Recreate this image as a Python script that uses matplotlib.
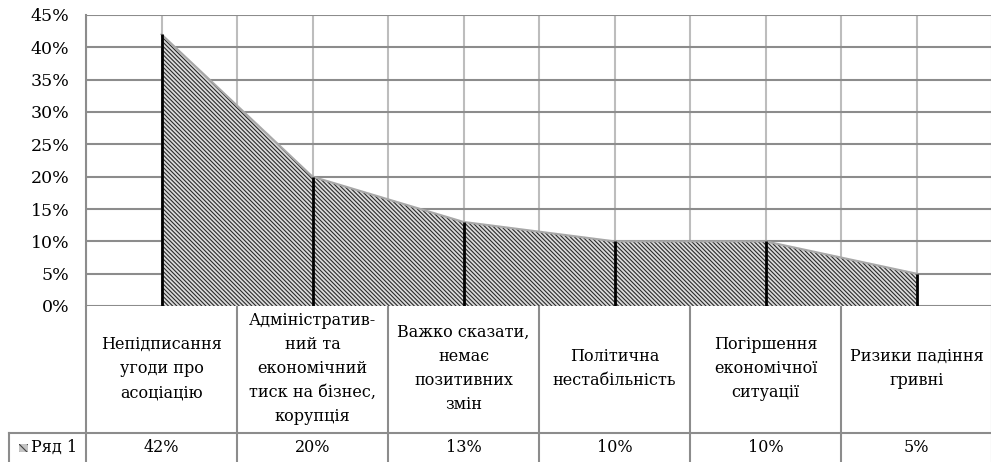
import numpy as np
import matplotlib.pyplot as plt
from matplotlib.patches import Rectangle

categories = [
    "Непідписання\nугоди про\nасоціацію",
    "Адміністратив-\nний та\nекономічний\nтиск на бізнес,\nкорупція",
    "Важко сказати,\nнемає\nпозитивних\nзмін",
    "Політична\nнестабільність",
    "Погіршення\nекономічної\nситуації",
    "Ризики падіння\nгривні",
]
values = [0.42, 0.20, 0.13, 0.10, 0.10, 0.05]
value_labels = ["42%", "20%", "13%", "10%", "10%", "5%"]
series_name = "Ряд 1"
y_ticks = [0, 0.05, 0.10, 0.15, 0.20, 0.25, 0.30, 0.35, 0.40, 0.45]

plt.rcParams['font.family'] = ['DejaVu Serif']
plt.rcParams['hatch.linewidth'] = 0.8

W, H = 991, 462
fig = plt.figure(figsize=(W / 100, H / 100), dpi=100)

# pixel layout
x0, col_w = 86, 151
top, base = 15, 306
ax = fig.add_axes([x0 / W, (H - base) / H, 6 * col_w / W, (base - top) / H])

n = len(values)
xs = np.arange(n) + 0.5
# hatch takes the edge colour, so the outline is drawn on its own
ax.fill_between(xs, 0, values, facecolor='#dadada', edgecolor='#2a2a2a',
                hatch='\\' * 8, linewidth=0, zorder=2)
ax.plot(xs, values, color='#a8a8a8', linewidth=1.5, zorder=2.5)
ax.vlines(xs, 0, values, color='black', linewidth=2, zorder=3)

ax.set_xlim(0, n)
ax.set_ylim(0, 0.45)
ax.set_yticks(y_ticks)
ax.set_yticklabels([f"{int(round(t * 100))}%" for t in y_ticks], fontsize=12.5)
ax.set_xticks([])
ax.tick_params(axis='y', length=0, pad=12)
for t in np.arange(0, n + 0.01, 0.5):
    ax.axvline(t, color='#bdbdbd', linewidth=1.5, zorder=1)
for t in y_ticks:
    ax.axhline(t, color='#8c8c8c', linewidth=1.5, zorder=1)
for s in ['top', 'right', 'bottom']:
    ax.spines[s].set_visible(False)
ax.spines['left'].set_color('#8c8c8c')
ax.spines['left'].set_linewidth(1.5)

# data table under the chart
tb = fig.add_axes([0, 0, 1, (H - base) / H])
tb.set_xlim(-x0 / col_w, (W - x0) / col_w)
tb.set_ylim(0, H - base)
tb.axis('off')
row_h = 29
gray = '#8c8c8c'
for c in range(n + 1):
    tb.plot([c, c], [0, H - base], color=gray, linewidth=1.5)
tb.plot([-77 / col_w, n], [row_h, row_h], color=gray, linewidth=1.5)
tb.plot([-77 / col_w, -77 / col_w], [0, row_h], color=gray, linewidth=1.5)
for i, (lab, v) in enumerate(zip(categories, value_labels)):
    tb.text(i + 0.5, (H - base + row_h) / 2 + 1, lab, ha='center', va='center',
            fontsize=11.5, linespacing=1.55)
    tb.text(i + 0.5, row_h / 2, v, ha='center', va='center', fontsize=11.5)
tb.add_patch(Rectangle((-67 / col_w, row_h / 2 - 4), 9 / col_w, 8,
                       facecolor='#c4c4c4', hatch='\\' * 4, edgecolor='#404040', linewidth=0))
tb.text(-55 / col_w, row_h / 2, series_name, ha='left', va='center', fontsize=11.5)

fig.savefig('out.png', dpi=100)
